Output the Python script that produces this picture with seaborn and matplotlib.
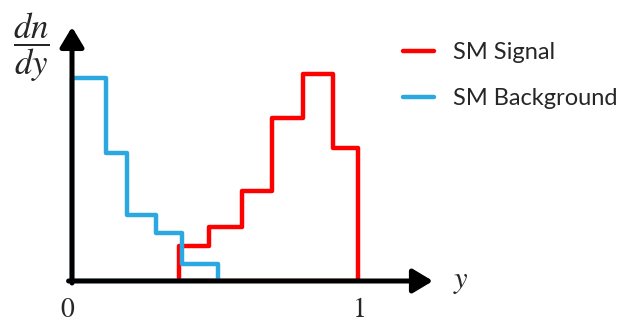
import numpy as np
import seaborn as sns
import matplotlib.pyplot as plt
from matplotlib.lines import Line2D
from matplotlib.transforms import Bbox, TransformedBbox

# bin edges / heights (y in units of the picture height)
sig_edges = [0.374, 0.479, 0.594, 0.699, 0.808, 0.913, 1.0]
sig_heights = [35, 54, 90, 163, 207, 133]
bkg_edges = [0.0, 0.119, 0.192, 0.294, 0.385, 0.510]
bkg_heights = [203, 128, 66, 48, 17]
labels = ['SM Signal', 'SM Background']
colors = ['#ff0000', '#2ba8e0']

sns.set_style('white')
plt.rcParams['mathtext.fontset'] = 'stix'

fig = plt.figure(figsize=(6.23, 3.24), dpi=100)
ax = fig.add_axes([0, 0, 1, 1])

for edges, heights, lab, col in [(sig_edges, sig_heights, labels[0], colors[0]),
                                  (bkg_edges, bkg_heights, labels[1], colors[1])]:
    e = np.array(edges)
    centers = list((e[:-1] + e[1:]) / 2)
    sns.histplot(x=centers, weights=list(heights), bins=list(edges), element='step',
                 fill=True, facecolor='none', edgecolor=col, color=col,
                 linewidth=3.2, ax=ax)

ax.set_xlim(-72 / 286, 551 / 286)
ax.set_ylim(-43, 281)

# hide the bottom edge of the step outlines (it sits under the x axis)
for c in ax.collections:
    c.set_clip_on(True)
    c.set_clip_box(TransformedBbox(Bbox([[-1, 2.4], [3, 400]]), ax.transData))

for s in ax.spines.values():
    s.set_visible(False)
ax.set_xticks([])
ax.set_yticks([])
ax.set_xlabel('')
ax.set_ylabel('')

arrow = dict(arrowstyle='-|>,head_length=0.6,head_width=0.36', mutation_scale=20,
             lw=3.6, color='black', shrinkA=0, shrinkB=0)
ax.annotate('', xy=(1.262, 0), xytext=(-0.012, 0), arrowprops=arrow, zorder=5)
ax.annotate('', xy=(0, 254), xytext=(0, -2), arrowprops=arrow, zorder=5)

ax.text(-0.014, -28, '$0$', fontsize=20, ha='center', va='center')
ax.text(1.0, -28, '$1$', fontsize=20, ha='center', va='center')
ax.text(1.36, 0, '$y$', fontsize=22, ha='center', va='center')
ax.text(-0.143, 234, r'$\dfrac{dn}{dy}$', fontsize=25, ha='center', va='center')

handles = [Line2D([], [], color=c, lw=3.2) for c in colors]
ax.legend(handles, labels, loc='upper left', bbox_to_anchor=(403 / 623, 1 - 42 / 324),
          frameon=False, prop={'family': 'Lato', 'size': 17}, handlelength=1.3,
          handletextpad=0.8, labelspacing=1.05, borderpad=0, borderaxespad=0)

fig.savefig('out.png', dpi=100)
